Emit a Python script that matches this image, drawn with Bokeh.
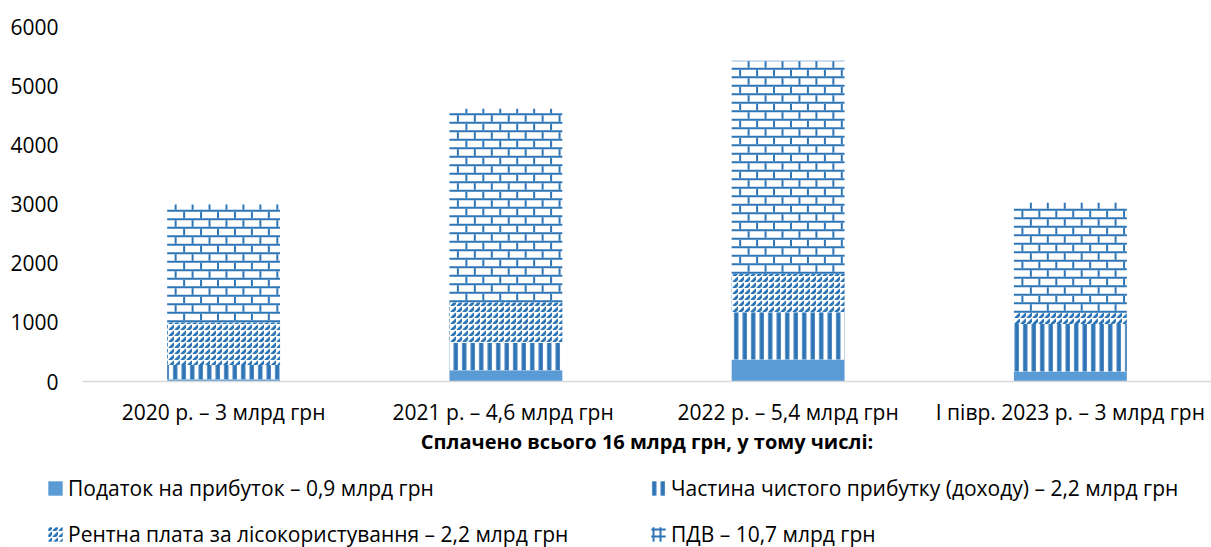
from bokeh.plotting import figure
from bokeh.models import FactorRange, FixedTicker, Legend, LegendItem, ColumnDataSource
from bokeh.embed import file_html
from bokeh.resources import INLINE

# ---- data ----
categories = ["2020 р. – 3 млрд грн", "2021 р. –  4,6 млрд грн",
              "2022 р. – 5,4 млрд грн", "І півр. 2023 р. – 3 млрд грн"]
profit_tax = [40, 190, 370, 170]
net_profit = [240, 460, 800, 800]
rent = [720, 690, 650, 190]
vat = [1990, 3270, 3600, 1860]
series_names = ["Податок на прибуток – 0,9 млрд грн",
                "Частина чистого прибутку (доходу) – 2,2 млрд грн",
                "Рентна плата за лісокористування – 2,2 млрд грн",
                "ПДВ – 10,7 млрд грн"]
y_ticks = [0, 1000, 2000, 3000, 4000, 5000, 6000]
x_title = "Сплачено всього 16 млрд грн, у тому числі:"

# ---- layout / style ----
W = 1211
H_MAIN, H_LEG = 473, 74
LEFT, TOP, BOTTOM = 82, 26, 92
Y_MAX = 6000
X_END = 3.987
BAR_W = 0.40
FONT = "Open Sans"
FS = "21px"
HATCH = "#2E75B6"
SOLID = "#5B9BD5"

STYLES = [
    dict(fill_color=SOLID),
    dict(fill_color="white", hatch_pattern="vertical_line", hatch_scale=8.5, hatch_weight=4.3,
         hatch_color=HATCH),
    dict(fill_color="white", hatch_pattern="right_diagonal_dash", hatch_scale=6, hatch_weight=3,
         hatch_color=HATCH),
    dict(fill_color="white", hatch_pattern="cross", hatch_scale=7, hatch_weight=2,
         hatch_color=HATCH),
]

src = ColumnDataSource(dict(cat=categories, profit_tax=profit_tax, net_profit=net_profit,
                            rent=rent, vat=vat))

p = figure(width=W, height=H_MAIN, output_backend="svg", toolbar_location=None,
           x_range=FactorRange(factors=categories, start=0, end=X_END, range_padding=0),
           y_range=(0, Y_MAX),
           min_border_left=LEFT, min_border_right=0, min_border_top=TOP, min_border_bottom=BOTTOM)
p.outline_line_color = None
p.xgrid.visible = False
p.ygrid.visible = False
p.background_fill_color = "white"
p.border_fill_color = "white"

stack = ["profit_tax", "net_profit", "rent", "vat"]
renderers = p.vbar_stack(stack, x="cat", width=BAR_W, source=src, line_color=None,
                         fill_color=[SOLID, "white", "white", "white"])
for r, s in zip(renderers[:3], STYLES[:3]):
    for k, v in s.items():
        setattr(r.glyph, k, v)

# brick texture of the VAT segment, derived from the stacked values
y_per_px = Y_MAX / (H_MAIN - TOP - BOTTOM)
x_per_px = X_END / (W - LEFT)
pitch = 8.5 * y_per_px
mortar = 2 * y_per_px
brick_w = 17 * x_per_px
joint_w = 2 * x_per_px
ql, qr, qb, qt = [], [], [], []
for i in range(len(categories)):
    y0 = profit_tax[i] + net_profit[i] + rent[i]
    y1 = y0 + vat[i]
    xl = i + 0.5 - BAR_W / 2
    xr = i + 0.5 + BAR_W / 2
    k = 0
    while y0 + k * pitch < y1:
        rb = y0 + k * pitch
        ql.append(xl); qr.append(xr); qb.append(rb); qt.append(min(rb + mortar, y1))
        jb, jt = rb + mortar, min(rb + pitch, y1)
        if jt > jb:
            off = (17 if k % 2 == 0 else 8.5) * x_per_px
            while xl + off + joint_w / 2 < xr:
                ql.append(xl + off - joint_w / 2); qr.append(xl + off + joint_w / 2)
                qb.append(jb); qt.append(jt)
                off += brick_w
        k += 1
p.quad(left=ql, right=qr, bottom=qb, top=qt, fill_color=HATCH, line_color=None)

# axes
p.yaxis.ticker = FixedTicker(ticks=y_ticks)
p.yaxis.axis_line_color = None
p.yaxis.major_tick_line_color = None
p.yaxis.minor_tick_line_color = None
p.yaxis.major_tick_out = 0
p.yaxis.major_label_standoff = 24
p.yaxis.major_label_text_font = FONT
p.yaxis.major_label_text_font_size = FS
p.yaxis.major_label_text_color = "black"

p.xaxis.axis_line_color = "#D9D9D9"
p.xaxis.axis_line_width = 1.5
p.xaxis.major_tick_line_color = None
p.xaxis.minor_tick_line_color = None
p.xaxis.major_tick_out = 0
p.xaxis.major_label_standoff = 16
p.xaxis.major_label_text_font = FONT
p.xaxis.major_label_text_font_size = FS
p.xaxis.major_label_text_color = "black"
p.xaxis.axis_label = x_title
p.xaxis.axis_label_text_font = FONT
p.xaxis.axis_label_text_font_size = "20px"
p.xaxis.axis_label_text_font_style = "bold"
p.xaxis.axis_label_text_color = "black"
p.xaxis.axis_label_standoff = -1

# ---- legend strip below the chart (separate root, frame = whole strip) ----
q = figure(width=W, height=H_LEG, output_backend="svg", toolbar_location=None,
           x_range=(0, W), y_range=(0, H_LEG), x_axis_location=None, y_axis_location=None,
           min_border_left=0, min_border_right=0, min_border_top=0, min_border_bottom=0)
q.outline_line_color = None
q.xgrid.visible = False
q.ygrid.visible = False
q.background_fill_color = "white"
q.border_fill_color = "white"

swatches = [q.vbar(x=[-100], top=[1], width=1, line_color=None, **s) for s in STYLES]


def make_legend(idx, x):
    lg = Legend(items=[LegendItem(label=series_names[i], renderers=[swatches[i]]) for i in idx],
                location=(x, -2), orientation="vertical", padding=0, margin=0, spacing=16,
                glyph_width=18, glyph_height=18, label_height=30, label_standoff=4,
                border_line_color=None, background_fill_alpha=0,
                label_text_font=FONT, label_text_font_size=FS, label_text_color="black")
    q.add_layout(lg, "center")


make_legend([0, 2], 46)
make_legend([1, 3], 649)

open("out.html", "w").write(file_html([p, q], INLINE))
